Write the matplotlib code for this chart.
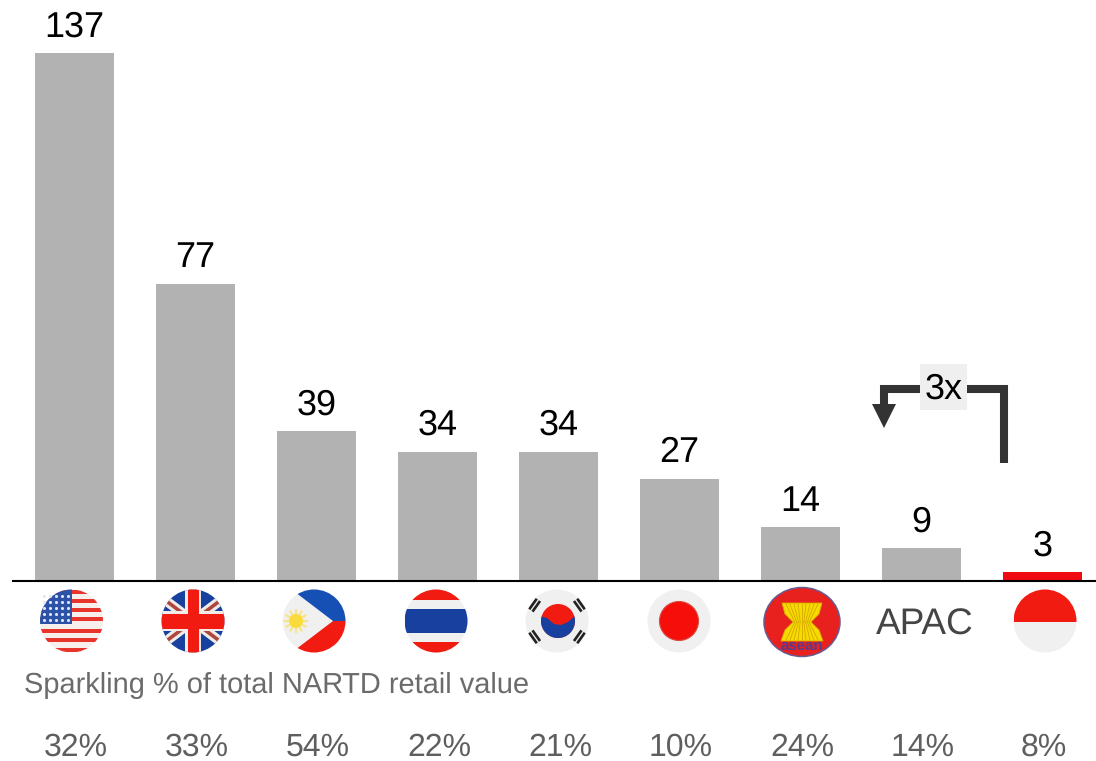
import matplotlib
matplotlib.use("Agg")
import matplotlib.pyplot as plt
from matplotlib.patches import Circle, Ellipse, Polygon, Rectangle
import numpy as np

plt.rcParams['font.family'] = ['Liberation Sans', 'DejaVu Sans']
plt.rcParams['text.hinting'] = 'none'
plt.rcParams['text.hinting_factor'] = 1

# bar heights as measured, labels as printed
values = [137, 77.2, 39, 33.6, 33.6, 26.6, 14, 8.6, 2.4]
value_labels = ['137', '77', '39', '34', '34', '27', '14', '9', '3']
bar_colors = ['#b2b2b2'] * 8 + ['#f00a12']
shares = ['32%', '33%', '54%', '22%', '21%', '10%', '24%', '14%', '8%']
caption = 'Sparkling % of total NARTD retail value'

RED = '#f21b12'
BLUE = '#17409f'
PALE = '#f0f0f0'
FLAG_Y = 621
FLAG_R = 31.5


fig = plt.figure(figsize=(10.96, 7.61), dpi=100)

# bars: index axis, baseline at y=581px
ax = fig.add_axes([13 / 1096, 1 - 581 / 761, 1 - 13 / 1096, 581 / 761])
x = np.arange(len(values))
bars = ax.bar(x, values, width=0.65, color=bar_colors)
ax.bar_label(bars, labels=value_labels, padding=6.5, fontsize=26, color='black')
ax.set_xlim(-0.508, 8.442)
ax.set_ylim(0, 150.8)
ax.set_xticks([])
ax.set_yticks([])
for s in ['top', 'left', 'right']:
    ax.spines[s].set_visible(False)
ax.spines['bottom'].set_linewidth(1.5)
ax.patch.set_alpha(0)

# everything else sits on an overlay in pixel coordinates
ov = fig.add_axes([0, 0, 1, 1])
ov.set_xlim(0, 1096)
ov.set_ylim(761, 0)
ov.axis('off')
ov.patch.set_alpha(0)


def disc(cx, color=PALE):
    c = Circle((cx, FLAG_Y), FLAG_R, fc=color, ec='none', zorder=1)
    ov.add_patch(c)
    return c


def clipped(patch, clip, z=2):
    ov.add_patch(patch)
    patch.set_clip_path(clip)
    patch.set_zorder(z)
    return patch


def stripe(cx, clip, y0, y1, color, z=2):
    clipped(Rectangle((cx - FLAG_R, y0), 2 * FLAG_R, y1 - y0, fc=color, ec='none'), clip, z)


def bar_line(clip, pts, color, lw, z=3):
    ln, = ov.plot(*zip(*pts), color=color, lw=lw, solid_capstyle='butt', zorder=z)
    ln.set_clip_path(clip)


# USA
cx = 71.5
c = disc(cx, '#f6efec')
for y0 in [590, 599, 608, 617, 629, 638, 648]:
    stripe(cx, c, y0, y0 + 4, '#e8352c')
clipped(Rectangle((cx - FLAG_R, 589), FLAG_R, 35, fc='#2c52a8', ec='none'), c)
star_x = [44, 50, 56, 62, 68]
star_y = [596, 602, 608, 614, 620]
for sy in star_y:
    ov.scatter(star_x, [sy] * 5, s=5, color='#dfe6f5', zorder=3, linewidths=0)

# UK
cx = 193
c = disc(cx, BLUE)
for sgn in [1, -1]:
    bar_line(c, [(cx - 32, FLAG_Y - sgn * 24), (cx + 32, FLAG_Y + sgn * 24)], '#f2ece8', 7)
    bar_line(c, [(cx - 32, FLAG_Y - sgn * 24), (cx + 32, FLAG_Y + sgn * 24)], '#b0473f', 2.6)
stripe(cx, c, FLAG_Y - 10, FLAG_Y + 10, '#f2ece8', 4)
clipped(Rectangle((cx - 8, 589), 16, 64, fc='#f2ece8', ec='none'), c, 4)
stripe(cx, c, FLAG_Y - 7.5, FLAG_Y + 7.5, RED, 5)
clipped(Rectangle((cx - 5.5, 589), 11, 64, fc=RED, ec='none'), c, 5)

# Philippines
cx = 314
c = disc(cx, PALE)
clipped(Polygon([(cx - 23, 589), (cx + 33, 589), (cx + 33, FLAG_Y), (cx + 19, FLAG_Y)], fc='#1650b4', ec='none'), c)
clipped(Polygon([(cx - 23, 653), (cx + 33, 653), (cx + 33, FLAG_Y), (cx + 19, FLAG_Y)], fc=RED, ec='none'), c)
for ang in np.deg2rad(np.arange(0, 360, 30)):
    ov.plot([cx - 18, cx - 18 + 11 * np.cos(ang)], [FLAG_Y, FLAG_Y + 11 * np.sin(ang)],
            color='#f7e48a', lw=1.6, zorder=3)
ov.add_patch(Circle((cx - 18, FLAG_Y), 7, fc='#f9dc3c', ec='none', zorder=4))

# Thailand
cx = 436
c = disc(cx, PALE)
stripe(cx, c, 589, 600, RED)
stripe(cx, c, 609, 633, BLUE)
stripe(cx, c, 642, 653, RED)

# South Korea
cx = 557
c = disc(cx, PALE)
ov.add_patch(Circle((cx + 1, FLAG_Y), 17, fc=RED, ec='none', zorder=2))
yin = Circle((cx + 1, FLAG_Y), 17, fc=BLUE, ec='none', zorder=3)
ov.add_patch(yin)
yin.set_clip_path(Polygon([(cx - 18, FLAG_Y - 5), (cx - 10, FLAG_Y - 3), (cx - 3, FLAG_Y + 3), (cx + 4, FLAG_Y + 4),
                           (cx + 11, FLAG_Y + 1), (cx + 19, FLAG_Y - 6), (cx + 19, FLAG_Y + 20), (cx - 18, FLAG_Y + 20)],
                          transform=ov.transData))
for qx, qy in [(-24, -17), (24, -17), (-24, 17), (24, 17)]:
    rx, ry = np.array([qx, qy]) / np.hypot(qx, qy)
    for off in [-4, 0, 4]:
        mx, my = cx + qx + rx * off, FLAG_Y + qy + ry * off
        bar_line(c, [(mx - ry * 6.5, my + rx * 6.5), (mx + ry * 6.5, my - rx * 6.5)], '#222222', 1.9)

# Japan
cx = 679
disc(cx, PALE)
ov.add_patch(Circle((cx, FLAG_Y), 19.5, fc='#f60f0a', ec='#d84a40', lw=0.8, zorder=2))

# ASEAN emblem
cx = 802
ov.add_patch(Ellipse((cx, FLAG_Y + 1), 76, 69, fc='#e8201e', ec='#6a5a90', lw=1.1, zorder=1))
ov.add_patch(Polygon([(cx - 20, 603), (cx + 20, 603), (cx + 17, 614), (cx + 9, 622), (cx + 17, 630),
                      (cx + 21, 641), (cx - 21, 641), (cx - 17, 630), (cx - 9, 622), (cx - 17, 614)],
                     fc='#f6da00', ec='#d6a800', lw=0.6, zorder=2))
for off in np.arange(-16, 17, 4):
    ov.plot([cx + off, cx + off * 0.45], [604, 622], color='#d6a800', lw=0.6, zorder=3)
    ov.plot([cx + off * 0.45, cx + off], [622, 640], color='#d6a800', lw=0.6, zorder=3)
ov.text(cx, 646, 'asean', ha='center', va='center', fontsize=10.5, fontweight='bold', color='#5a3a8c', zorder=4)

# APAC
ov.text(924.5, 635, 'APAC', ha='center', va='baseline', fontsize=26.5, color='#454545')

# Indonesia
cx = 1045
c = disc(cx, PALE)
stripe(cx, c, 589, 622, RED)

# footer
ov.text(24, 693, caption, ha='left', va='baseline', fontsize=20.9, color='#6b6b6b')
for i, s in enumerate(shares):
    ov.text(76 + 121 * i, 756, s, ha='center', va='baseline', fontsize=23, color='#5f5f5f')

# 3x arrow
ov.plot([1003.5, 1003.5, 884, 884], [463, 389, 389, 406], color='#333333', lw=5.8,
        solid_joinstyle='miter', solid_capstyle='butt', zorder=2)
ov.add_patch(Polygon([(872, 404), (896, 404), (884, 428)], fc='#333333', ec='none', zorder=2))
ov.add_patch(Rectangle((920, 364), 47, 46, fc='#efefef', ec='none', zorder=3))
ov.text(943.5, 399, '3x', ha='center', va='baseline', fontsize=26, color='black', zorder=4)

fig.savefig('out.png', dpi=100)
